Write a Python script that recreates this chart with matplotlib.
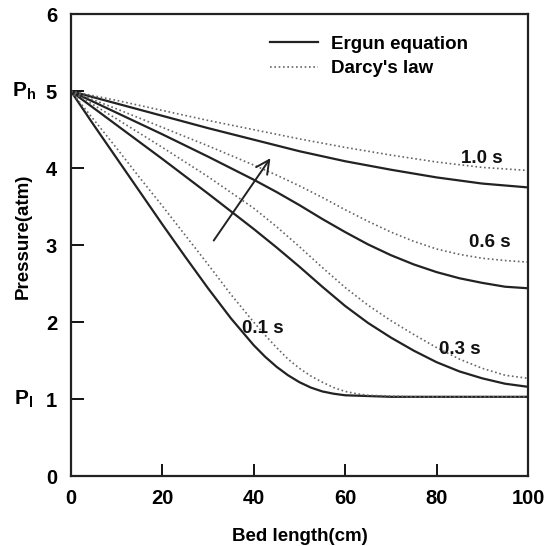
import numpy as np
import matplotlib
matplotlib.use("Agg")
import matplotlib.pyplot as plt

plt.rcParams['font.family'] = ['Liberation Sans', 'DejaVu Sans']
plt.rcParams['mathtext.fontset'] = 'custom'
plt.rcParams['mathtext.rm'] = 'Liberation Sans'
plt.rcParams['mathtext.bf'] = 'Liberation Sans:bold'

# Ergun equation curves (x in cm, pressure in atm)
x_e10 = [0, 10, 20, 30, 40, 50, 60, 70, 80, 90, 100]
ergun_10 = [5.0, 4.84, 4.68, 4.52, 4.37, 4.22, 4.09, 3.98, 3.88, 3.80, 3.75]
x_e06 = [0, 10, 20, 30, 40, 45, 50, 55, 60, 65, 70, 75, 80, 85, 90, 95, 100]
ergun_06 = [5.0, 4.72, 4.44, 4.15, 3.85, 3.69, 3.52, 3.34, 3.17, 3.01, 2.87, 2.75, 2.65, 2.57, 2.51, 2.46, 2.44]
x_e03 = [0, 10, 20, 30, 40, 45, 50, 55, 60, 65, 70, 75, 80, 85, 90, 95, 100]
ergun_03 = [5.0, 4.56, 4.12, 3.67, 3.21, 2.97, 2.72, 2.46, 2.21, 1.99, 1.80, 1.63, 1.48, 1.36, 1.27, 1.20, 1.16]
x_e01 = [0, 5, 10, 15, 20, 25, 30, 35, 40, 42.5, 45, 47.5, 50, 52.5, 55, 57.5, 60, 65, 70, 100]
ergun_01 = [5.0, 4.56, 4.13, 3.70, 3.27, 2.85, 2.44, 2.05, 1.70, 1.55, 1.42, 1.31, 1.22, 1.15, 1.10, 1.07, 1.05, 1.04, 1.03, 1.03]

# Darcy's law curves
x_d10 = [0, 10, 20, 30, 40, 50, 60, 70, 80, 90, 100]
darcy_10 = [5.0, 4.88, 4.75, 4.62, 4.50, 4.38, 4.27, 4.17, 4.08, 4.01, 3.97]
x_d06 = [0, 10, 20, 30, 40, 45, 50, 55, 60, 65, 70, 75, 80, 85, 90, 95, 100]
darcy_06 = [5.0, 4.77, 4.53, 4.29, 4.04, 3.91, 3.77, 3.62, 3.46, 3.31, 3.17, 3.05, 2.95, 2.88, 2.83, 2.80, 2.78]
x_d03 = [0, 10, 20, 30, 40, 45, 50, 55, 60, 65, 70, 75, 80, 85, 90, 95, 100]
darcy_03 = [5.0, 4.64, 4.27, 3.89, 3.48, 3.24, 2.98, 2.71, 2.45, 2.22, 2.02, 1.84, 1.67, 1.52, 1.40, 1.31, 1.27]
x_d01 = [0, 5, 10, 15, 20, 25, 30, 35, 40, 42.5, 45, 47.5, 50, 52.5, 55, 57.5, 60, 62.5, 65, 70, 75, 100]
darcy_01 = [5.0, 4.63, 4.26, 3.88, 3.51, 3.13, 2.75, 2.36, 2.00, 1.83, 1.67, 1.52, 1.40, 1.30, 1.22, 1.15, 1.10, 1.07, 1.05, 1.04, 1.03, 1.03]

labels = ["1.0 s", "0.6 s", "0.3 s", "0.1 s"]
label_pos = [(89.8, 4.13), (91.7, 3.04), (85.0, 1.64), (41.9, 1.92)]

xticks = [0, 20, 40, 60, 80, 100]
yticks = [0, 1, 2, 3, 4, 5, 6]

fig = plt.figure(figsize=(5.54, 5.46), dpi=100)
ax = fig.add_axes([0.128, 0.128, 0.825, 0.846])

solid_c = '#222222'
dot_c = '#666666'

ergun = [(x_e10, ergun_10), (x_e06, ergun_06), (x_e03, ergun_03), (x_e01, ergun_01)]
darcy = [(x_d10, darcy_10), (x_d06, darcy_06), (x_d03, darcy_03), (x_d01, darcy_01)]

for i, (xs, ys) in enumerate(ergun):
    ax.plot(xs, ys, color=solid_c, lw=1.6, label="Ergun equation" if i == 0 else None,
            solid_joinstyle='round')
for i, (xs, ys) in enumerate(darcy):
    ax.plot(xs, ys, color=dot_c, lw=1.2, ls=(0, (1, 1.6)), label="Darcy's law" if i == 0 else None)

for lab, (lx, ly) in zip(labels, label_pos):
    ax.text(lx, ly, lab, ha='center', va='center', fontsize=13.5, fontweight='bold', color='#111111')

ax.annotate("", xy=(44.0, 4.16), xytext=(30.9, 3.03),
            arrowprops=dict(arrowstyle="->", color=solid_c, lw=1.4, mutation_scale=24))

ax.set_xlim(0, 100)
ax.set_ylim(0, 6)
ax.set_xticks(xticks)
ax.set_yticks(yticks)
ax.tick_params(direction='in', length=9, width=1.3, labelsize=14.5)
ax.tick_params(axis='y', pad=10)
ax.tick_params(axis='x', pad=9)
for lab in ax.get_xticklabels() + ax.get_yticklabels():
    lab.set_fontweight('bold')
for s in ax.spines.values():
    s.set_linewidth(1.6)
    s.set_color('#222222')

ax.set_xlabel("Bed length(cm)", fontsize=13.5, fontweight='bold')
ax.set_ylabel("Pressure(atm)", fontsize=13.5, fontweight='bold')
ax.xaxis.set_label_coords(0.5, -0.113)
ax.yaxis.set_label_coords(-0.085, 0.52)

ax.text(-0.103, 5, r"$\mathbf{P_h}$", transform=ax.get_yaxis_transform(), ha='center', va='center', fontsize=15)
ax.text(-0.103, 1, r"$\mathbf{P_l}$", transform=ax.get_yaxis_transform(), ha='center', va='center', fontsize=15)

leg = ax.legend(loc='upper left', bbox_to_anchor=(0.435, 0.954), frameon=False, fontsize=13.5,
                borderaxespad=0, borderpad=0,
                handlelength=2.6, handletextpad=0.65, labelspacing=0.4)
for t in leg.get_texts():
    t.set_fontweight('bold')

fig.savefig("out.png", dpi=100)
